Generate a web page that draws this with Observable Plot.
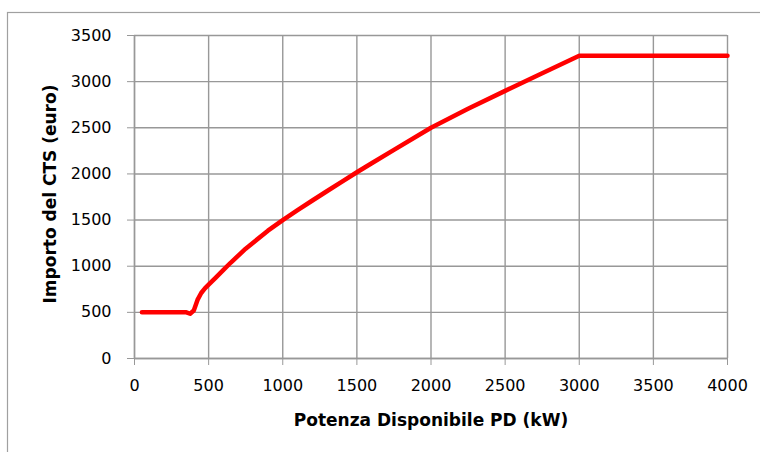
<!DOCTYPE html>
<html>
<head>
<meta charset="utf-8">
<script src="https://cdn.jsdelivr.net/npm/d3@7"></script>
<script src="https://cdn.jsdelivr.net/npm/@observablehq/plot@0.6"></script>
<style>
  html, body { margin: 0; padding: 0; background: #fff; }
  #chart svg { display: block; }
</style>
</head>
<body>
<div id="chart"></div>
<script>
// Potenza disponibile (kW)
const potenza = [50, 350, 375, 400, 425, 450, 475, 500, 550, 600, 650, 700, 750, 800, 900, 1000, 1100, 1200, 1300, 1400, 1500, 1600, 1750, 2000, 2250, 2500, 2750, 3000, 4000];
// Importo del CTS (euro)
const importo = [500, 500, 485, 520, 635, 710, 760, 800, 880, 960, 1040, 1115, 1190, 1255, 1385, 1500, 1607, 1712, 1815, 1917, 2018, 2116, 2260, 2500, 2705, 2900, 3090, 3280, 3280];
const xTicks = [0, 500, 1000, 1500, 2000, 2500, 3000, 3500, 4000];
const yTicks = [0, 500, 1000, 1500, 2000, 2500, 3000, 3500];
const xLabel = "Potenza Disponibile PD (kW)";
const yLabel = "Importo del CTS (euro)";

const data = potenza.map((p, i) => ({p, v: importo[i]}));
const font = "'DejaVu Sans', 'Open Sans', sans-serif";
const gridColor = "#989898";

const chart = Plot.plot({
  width: 760,
  height: 452,
  marginLeft: 134,
  marginRight: 33,
  marginTop: 35,
  marginBottom: 94,
  style: {fontFamily: font, fontSize: "16px", color: "black", background: "white"},
  x: {domain: [0, 4000], ticks: xTicks, tickFormat: d => String(d)},
  y: {domain: [0, 3500], ticks: yTicks, tickFormat: d => String(d)},
  marks: [
    Plot.gridX(xTicks, {stroke: gridColor, strokeOpacity: 1, strokeWidth: 1.4}),
    Plot.gridY(yTicks, {stroke: gridColor, strokeOpacity: 1, strokeWidth: 1.4}),
    Plot.ruleX([0], {stroke: gridColor, strokeWidth: 1.4}),
    Plot.ruleY([0], {stroke: gridColor, strokeWidth: 1.4}),
    Plot.axisX(xTicks, {tickSize: 7, tickPadding: 14, stroke: gridColor, fill: "black", label: null, fontSize: 16, tickFormat: d => String(d)}),
    Plot.axisY(yTicks, {tickSize: 7, tickPadding: 16, stroke: gridColor, fill: "black", label: null, fontSize: 16, tickFormat: d => String(d)}),
    Plot.line(data, {x: "p", y: "v", stroke: "#ff0000", strokeWidth: 4.5, curve: "linear", strokeLinecap: "round", strokeLinejoin: "round"}),
    Plot.text([xLabel], {frameAnchor: "bottom", textAnchor: "middle", dy: 62, text: d => d, fontWeight: "bold", fontSize: 17, fill: "black", lineAnchor: "middle"}),
    Plot.text([yLabel], {frameAnchor: "left", textAnchor: "middle", dx: -84, dy: -3, rotate: -90, text: d => d, fontWeight: "bold", fontSize: 17, fill: "black", lineAnchor: "middle"})
  ]
});

// outer chart-area border (decoration)
d3.select(chart).insert("rect", ":first-child")
  .attr("x", 7.5).attr("y", 12.5).attr("width", 900).attr("height", 600)
  .attr("fill", "none").attr("stroke", "#a0a0a0").attr("stroke-width", 1.2);

document.getElementById("chart").appendChild(chart);
</script>
</body>
</html>
